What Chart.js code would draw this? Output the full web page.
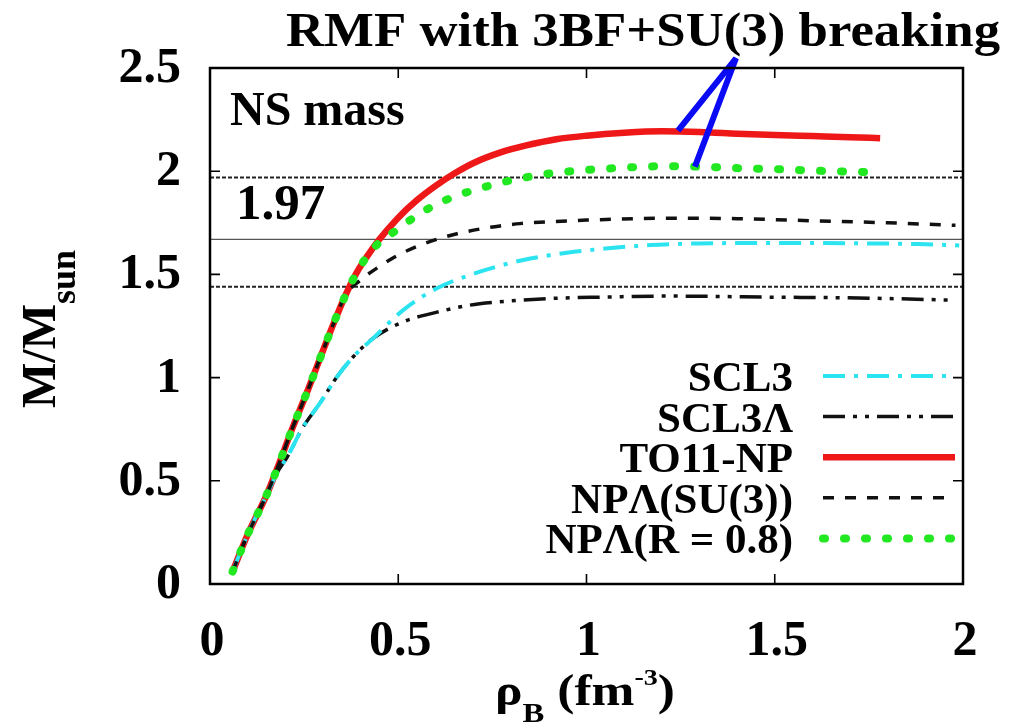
<!DOCTYPE html>
<html>
<head>
<meta charset="utf-8">
<title>NS mass</title>
<script src="https://cdn.jsdelivr.net/npm/chart.js@4.4.1/dist/chart.umd.min.js"></script>
<style>
  html, body { margin: 0; padding: 0; background: #fff; }
  #wrap { width: 1022px; height: 723px; }
  /* keeps the serif face loaded for canvas text */
  #fontwarm { position: absolute; left: -9999px; top: 0; font: bold 40px 'Liberation Serif'; }
</style>
</head>
<body>
<div id="fontwarm">RMF ρ Λ 0.5</div>
<div id="wrap"><canvas id="c" width="1022" height="723"></canvas></div>
<script>
// ── data: mass vs central baryon density ─────────────────────
const xTicks = [0, 0.5, 1, 1.5, 2];
const xTickLabels = ['0', '0.5', '1', '1.5', '2'];
const yTicks = [0, 0.5, 1, 1.5, 2, 2.5];
const yTickLabels = ['0', '0.5', '1', '1.5', '2', '2.5'];

// SCL3
const scl3X = [0.06, 0.10, 0.15, 0.18, 0.205, 0.247, 0.292, 0.337, 0.38, 0.433, 0.513, 0.603, 0.69, 0.77, 0.832, 0.948, 1.05, 1.17, 1.30, 1.45, 1.60, 1.75, 1.88, 1.99];
const scl3Y = [0.06, 0.24, 0.43, 0.545, 0.615, 0.76, 0.876, 1.003, 1.10, 1.19, 1.327, 1.433, 1.497, 1.542, 1.57, 1.605, 1.625, 1.642, 1.65, 1.652, 1.652, 1.65, 1.647, 1.64];

// SCL3Λ
const scl3lX = [0.06, 0.10, 0.15, 0.18, 0.205, 0.247, 0.292, 0.337, 0.38, 0.433, 0.513, 0.603, 0.69, 0.77, 0.90, 1.04, 1.21, 1.48, 1.75, 1.98];
const scl3lY = [0.06, 0.24, 0.43, 0.545, 0.615, 0.76, 0.876, 1.003, 1.10, 1.19, 1.27, 1.317, 1.351, 1.367, 1.383, 1.39, 1.395, 1.39, 1.385, 1.375];

// TO11-NP
const to11X = [0.06, 0.10, 0.15, 0.18, 0.22, 0.26, 0.30, 0.33, 0.36, 0.39, 0.42, 0.45, 0.50, 0.55, 0.60, 0.65, 0.70, 0.77, 0.84, 0.92, 1.00, 1.10, 1.20, 1.30, 1.40, 1.50, 1.60, 1.70, 1.78];
const to11Y = [0.06, 0.24, 0.43, 0.567, 0.76, 0.94, 1.13, 1.27, 1.40, 1.51, 1.595, 1.67, 1.775, 1.86, 1.93, 1.99, 2.04, 2.09, 2.125, 2.155, 2.172, 2.186, 2.193, 2.19, 2.182, 2.175, 2.17, 2.165, 2.16];

// NPΛ(SU(3))
const su3X = [0.06, 0.10, 0.15, 0.18, 0.22, 0.26, 0.30, 0.33, 0.36, 0.398, 0.447, 0.496, 0.549, 0.603, 0.656, 0.717, 0.77, 0.823, 0.90, 1.00, 1.20, 1.40, 1.60, 1.80, 1.98];
const su3Y = [0.06, 0.24, 0.43, 0.567, 0.76, 0.94, 1.13, 1.27, 1.40, 1.47, 1.535, 1.59, 1.635, 1.67, 1.697, 1.72, 1.735, 1.746, 1.755, 1.763, 1.772, 1.77, 1.76, 1.75, 1.738];

// NPΛ(R = 0.8)
const r08X = [0.06, 0.10, 0.15, 0.18, 0.22, 0.26, 0.30, 0.33, 0.36, 0.39, 0.42, 0.45, 0.50, 0.545, 0.593, 0.646, 0.70, 0.752, 0.805, 0.87, 0.92, 1.00, 1.10, 1.20, 1.30, 1.40, 1.50, 1.60, 1.70, 1.77];
const r08Y = [0.06, 0.24, 0.43, 0.567, 0.76, 0.94, 1.13, 1.27, 1.40, 1.51, 1.595, 1.655, 1.72, 1.78, 1.832, 1.875, 1.908, 1.935, 1.958, 1.98, 1.993, 2.006, 2.017, 2.024, 2.022, 2.015, 2.01, 2.003, 1.998, 1.995];

// observed masses drawn as horizontal lines
const refLevels = [1.97, 1.67, 1.44];

// pointer from the caption down to the two 3BF curves: red end, apex, green end
const pointerX = [1.243, 1.397, 1.288];
const pointerY = [2.196, 2.547, 2.022];

const SERIF = "'Liberation Serif', serif";

function pts(xs, ys) { return xs.map((x, i) => ({ x, y: ys[i] })); }

function curve(label, xs, ys, style, order) {
  return Object.assign({
    label,
    data: pts(xs, ys),
    showLine: true,
    pointRadius: 0,
    fill: false,
    cubicInterpolationMode: 'monotone',
    borderCapStyle: 'butt',
    borderDash: [],
    order,
    inLegend: true
  }, style);
}

const datasets = [
  curve('SCL3', scl3X, scl3Y, { borderColor: 'rgb(44,228,240)', borderWidth: 4, borderDash: [22, 9, 4, 9] }, 3),
  curve('SCL3Λ', scl3lX, scl3lY, { borderColor: '#111', borderWidth: 3.5, borderDash: [22, 8, 4, 8, 4, 8] }, 4),
  curve('TO11-NP', to11X, to11Y, { borderColor: 'rgb(238,24,24)', borderWidth: 6.5 }, 5),
  curve('NPΛ(SU(3))', su3X, su3Y, { borderColor: '#111', borderWidth: 3.5, borderDash: [11, 11] }, 2),
  curve('NPΛ(R = 0.8)', r08X, r08Y, { borderColor: 'rgb(34,232,34)', borderWidth: 8, borderDash: [2, 19], borderCapStyle: 'round' }, 1)
];

refLevels.forEach((v, i) => {
  datasets.push({
    label: 'ref ' + v,
    data: [{ x: 0, y: v }, { x: 2, y: v }],
    showLine: true,
    pointRadius: 0,
    borderColor: i === 1 ? '#555' : '#222',
    borderWidth: i === 1 ? 1.3 : 2,
    borderDash: i === 1 ? [] : [4, 2],
    order: 6,
    inLegend: false
  });
});

datasets.push({
  label: 'pointer',
  data: pts(pointerX, pointerY),
  showLine: true,
  pointRadius: 0,
  tension: 0,
  borderColor: 'rgb(10,10,245)',
  borderWidth: 6,
  borderJoinStyle: 'bevel',
  clip: false,
  order: 0,
  inLegend: false
});

// ── text helpers ─────────────────────────────────────────────
function fontOf(px) { return 'bold ' + px + 'px ' + SERIF; }

// draws a row of [text, size, dy] pieces from x along one baseline
function drawRuns(ctx, x, y, runs) {
  runs.forEach(([txt, size, dy]) => {
    ctx.font = fontOf(size);
    ctx.fillText(txt, x, y + (dy || 0));
    x += ctx.measureText(txt).width;
  });
}

// frame, inward ticks on all four sides, labels, legend
const framePlugin = {
  id: 'frame',
  afterDraw(chart) {
    const { ctx, chartArea: { left, right, top, bottom }, scales: { x, y } } = chart;
    ctx.save();
    ctx.strokeStyle = '#000';
    ctx.fillStyle = '#000';

    ctx.lineWidth = 1.6;
    ctx.beginPath();
    xTicks.forEach(v => {
      const px = x.getPixelForValue(v);
      ctx.moveTo(px, bottom); ctx.lineTo(px, bottom - 10);
      ctx.moveTo(px, top); ctx.lineTo(px, top + 10);
    });
    yTicks.forEach(v => {
      const py = y.getPixelForValue(v);
      ctx.moveTo(left, py); ctx.lineTo(left + 10, py);
      ctx.moveTo(right, py); ctx.lineTo(right - 10, py);
    });
    ctx.stroke();

    ctx.lineWidth = 2.5;
    ctx.strokeRect(left, top, right - left, bottom - top);

    // tick labels
    ctx.font = fontOf(50);
    ctx.textAlign = 'right';
    ctx.textBaseline = 'middle';
    yTicks.forEach((v, i) => ctx.fillText(yTickLabels[i], left - 29, y.getPixelForValue(v) + 1));
    ctx.textAlign = 'center';
    ctx.textBaseline = 'alphabetic';
    xTicks.forEach((v, i) => ctx.fillText(xTickLabels[i], x.getPixelForValue(v) + 2, bottom + 71));

    // caption, slightly widened
    ctx.save();
    ctx.translate(643, 46);
    ctx.scale(1.1, 1);
    ctx.font = fontOf(48);
    ctx.fillText('RMF with 3BF+SU(3) breaking', 0, 0);
    ctx.restore();

    ctx.textAlign = 'left';
    ctx.font = fontOf(48);
    ctx.fillText('NS mass', left + 20, 125);
    ctx.font = fontOf(51);
    ctx.fillText('1.97', left + 26, 219);

    // axis titles
    ctx.save();
    ctx.translate(495, 705);
    ctx.scale(1.17, 1);
    drawRuns(ctx, 0, 0, [['ρ', 44], ['B', 28, 17], [' (fm', 44], ['-3', 24, -20], [')', 44]]);
    ctx.restore();
    ctx.save();
    ctx.translate(55, 408);
    ctx.rotate(-Math.PI / 2);
    drawRuns(ctx, 0, 0, [['M/M', 48], ['sun', 36, 20]]);
    ctx.restore();

    // legend: right-aligned names with a line sample each
    const rows = chart.data.datasets.filter(d => d.inLegend);
    rows.forEach((d, i) => {
      const ry = 376 + i * 40.6;
      ctx.font = fontOf(43);
      ctx.textAlign = 'right';
      ctx.fillText(d.label, 793, ry + 15);
      ctx.save();
      ctx.strokeStyle = d.borderColor;
      ctx.lineWidth = d.borderWidth;
      ctx.lineCap = d.borderCapStyle || 'butt';
      ctx.setLineDash(d.borderDash || []);
      ctx.beginPath();
      ctx.moveTo(823, ry);
      ctx.lineTo(955, ry);
      ctx.stroke();
      ctx.restore();
    });
    ctx.restore();
  }
};

const chart = new Chart(document.getElementById('c'), {
  type: 'scatter',
  data: { datasets },
  plugins: [framePlugin],
  options: {
    responsive: false,
    animation: false,
    layout: { padding: { left: 210, right: 59, top: 68, bottom: 139 } },
    plugins: { legend: { display: false }, tooltip: { enabled: false } },
    scales: {
      x: { type: 'linear', min: 0, max: 2, display: false },
      y: { type: 'linear', min: 0, max: 2.5, display: false }
    }
  }
});

// redraw once the serif face is ready so canvas text picks it up
document.fonts.load("bold 40px 'Liberation Serif'", 'RMF ρ Λ').then(() => chart.draw());
document.fonts.ready.then(() => chart.draw());
</script>
</body>
</html>
